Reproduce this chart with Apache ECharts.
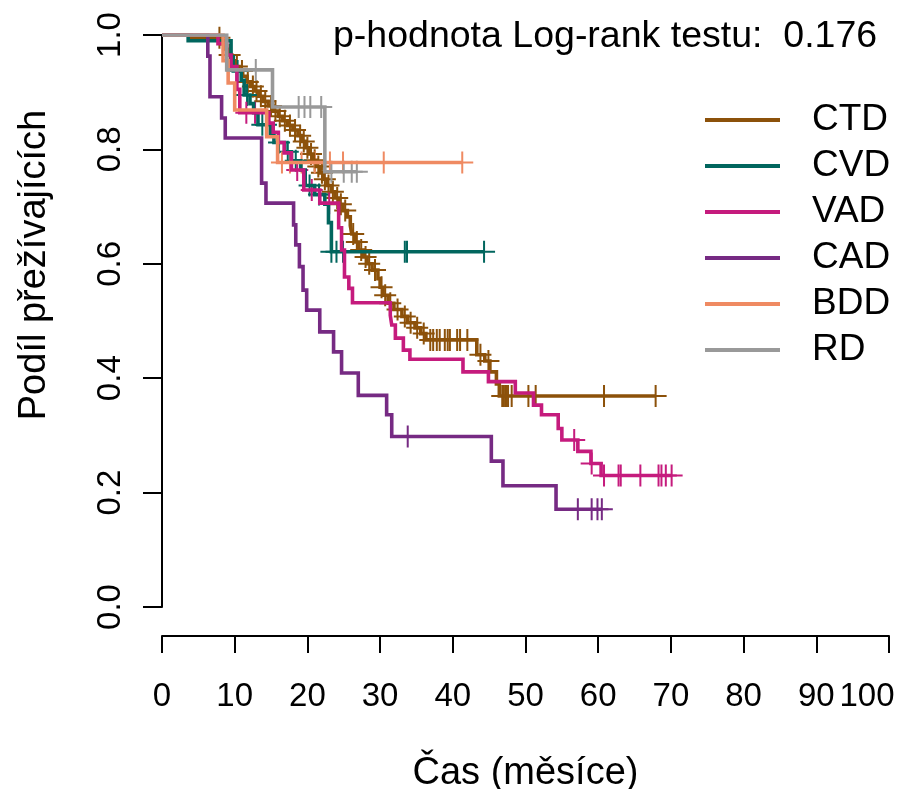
<!DOCTYPE html>
<html><head><meta charset="utf-8">
<script src="https://cdn.jsdelivr.net/npm/echarts@6/dist/echarts.min.js"></script>
<style>html,body{margin:0;padding:0;background:#fff}#c{width:918px;height:789px}</style>
</head><body><div id="c"></div>
<script>
// ---- data ----
const groupNames = ['CTD', 'CVD', 'VAD', 'CAD', 'BDD', 'RD'];
const xTicks = [0, 10, 20, 30, 40, 50, 60, 70, 80, 90, 100];
const yTicks = [0.0, 0.2, 0.4, 0.6, 0.8, 1.0];
const titleText = 'p-hodnota Log-rank testu:  0.176';
const xName = 'Čas (měsíce)';
const yName = 'Podíl přežívajících';

const ctdTime = [0, 4.0, 8.2, 8.7, 9.1, 9.6, 10.0, 10.6, 11.1, 11.7, 12.2, 12.8, 13.3, 13.9, 14.6, 15.3, 16.0, 16.6, 17.3, 18.0, 18.7, 19.3, 19.7, 20.2, 20.8, 21.2, 21.7, 22.2, 22.7, 23.3, 23.8, 24.4, 24.9, 25.5, 25.9, 26.1, 26.6, 27.0, 27.7, 28.2, 28.9, 29.7, 30.0, 30.4, 31.1, 31.9, 33.0, 33.8, 34.8, 35.6, 36.3, 43.3, 44.4, 45.1, 46.0, 46.4];
const ctdSurv = [1, 0.995, 0.985, 0.975, 0.965, 0.955, 0.945, 0.937, 0.928, 0.918, 0.910, 0.902, 0.893, 0.884, 0.876, 0.867, 0.858, 0.850, 0.842, 0.834, 0.824, 0.814, 0.803, 0.792, 0.781, 0.770, 0.759, 0.748, 0.737, 0.726, 0.715, 0.704, 0.693, 0.682, 0.667, 0.652, 0.638, 0.624, 0.612, 0.600, 0.589, 0.574, 0.559, 0.545, 0.531, 0.520, 0.508, 0.497, 0.488, 0.478, 0.467, 0.441, 0.430, 0.411, 0.390, 0.369];
const ctdCensor = [7.9, 9.3, 10.3, 11.0, 11.8, 12.5, 13.0, 13.6, 14.2, 15.0, 15.6, 16.2, 16.9, 17.6, 18.3, 19.0, 19.5, 20.0, 20.5, 21.0, 21.5, 22.0, 22.4, 22.9, 23.5, 24.1, 24.6, 25.2, 26.3, 26.8, 27.4, 28.0, 28.5, 29.3, 30.2, 30.7, 31.4, 32.4, 33.4, 34.2, 35.1, 36.0, 36.9, 37.3, 37.8, 38.2, 38.9, 39.3, 39.6, 40.6, 41.0, 42.0, 43.8, 44.9, 46.8, 47.0, 47.2, 47.4, 47.6, 48.1, 50.4, 51.4, 60.8, 67.9];

const cvdTime = [0, 3.6, 9.5, 9.8, 10.9, 11.3, 12.1, 12.6, 13.2, 14.9, 15.4, 16.9, 17.8, 19.1, 19.7, 21.0, 22.4, 22.9, 23.3];
const cvdSurv = [1, 0.990, 0.962, 0.937, 0.921, 0.895, 0.880, 0.864, 0.843, 0.828, 0.812, 0.796, 0.780, 0.764, 0.737, 0.721, 0.704, 0.672, 0.621];
const cvdCensor = [10.4, 11.7, 13.8, 14.3, 16.1, 17.3, 18.4, 20.3, 21.6, 23.3, 24.0, 24.9, 33.4, 33.7, 44.3];

const vadTime = [0, 7.7, 8.9, 9.5, 10.3, 10.7, 14.7, 15.3, 16.0, 16.8, 17.8, 19.5, 21.7, 24.3, 24.7, 25.1, 25.7, 26.2, 31.4, 31.6, 32.1, 33.2, 34.1, 41.4, 44.9, 48.6, 51.1, 52.2, 54.5, 55.0, 57.2, 59.0, 60.4];
const vadSurv = [1, 0.985, 0.965, 0.945, 0.905, 0.864, 0.846, 0.830, 0.812, 0.794, 0.764, 0.729, 0.706, 0.663, 0.624, 0.577, 0.557, 0.532, 0.510, 0.493, 0.470, 0.449, 0.433, 0.411, 0.394, 0.374, 0.353, 0.336, 0.312, 0.292, 0.272, 0.251, 0.230];
const vadCensor = [11.6, 12.8, 18.6, 20.6, 23.0, 56.7, 59.1, 60.8, 62.8, 63.1, 65.8, 68.3, 68.7, 69.3, 70.1];

const cadTime = [0, 6.3, 6.6, 8.2, 8.7, 13.7, 14.3, 18.1, 18.4, 18.9, 19.4, 19.9, 21.7, 23.6, 24.7, 27.0, 30.9, 31.6, 45.3, 46.9, 54.2];
const cadSurv = [1, 0.963, 0.892, 0.855, 0.820, 0.741, 0.706, 0.668, 0.633, 0.595, 0.554, 0.519, 0.481, 0.446, 0.409, 0.370, 0.336, 0.298, 0.255, 0.212, 0.171];
const cadCensor = [33.8, 57.2, 59.1, 59.9, 60.5];

const bddTime = [0, 8.4, 9.1, 10.0, 14.4, 15.9];
const bddSurv = [1, 0.955, 0.916, 0.869, 0.822, 0.777];
const bddCensor = [16.5, 17.6, 19.2, 21.0, 23.1, 24.9, 30.5, 41.3];

const rdTime = [0, 8.9, 15.2, 22.4];
const rdSurv = [1, 0.939, 0.874, 0.761];
const rdCensor = [12.9, 18.8, 19.6, 20.4, 21.9, 23.3, 25.0, 26.1, 26.8];

// ---- styles ----
const groupColors = ['#8C510A', '#01665E', '#C51B7D', '#762A83', '#EF8A62', '#999999'];
const groups = [
  [ctdTime, ctdSurv, ctdCensor],
  [cvdTime, cvdSurv, cvdCensor],
  [vadTime, vadSurv, vadCensor],
  [cadTime, cadSurv, cadCensor],
  [bddTime, bddSurv, bddCensor],
  [rdTime, rdSurv, rdCensor]
];

function survAt(times, surv, t) {
  let s = surv[0];
  for (let i = 0; i < times.length; i++) if (times[i] <= t) s = surv[i];
  return s;
}

const plusPath = 'path://M10,0H12V10H22V12H12V22H10V12H0V10H10Z';
const series = [];
groups.forEach((g, k) => {
  const [times, surv, cens] = g;
  const pts = times.map((t, i) => [t, surv[i]]);
  const lastT = Math.max(times[times.length - 1], cens.length ? Math.max(...cens) : 0);
  if (lastT > times[times.length - 1]) pts.push([lastT, surv[surv.length - 1]]);
  series.push({
    type: 'line', name: groupNames[k], step: 'end', data: pts,
    showSymbol: false, symbol: 'none', animation: false,
    lineStyle: { width: 3.6, color: groupColors[k], cap: 'butt', join: 'miter' },
    itemStyle: { color: groupColors[k] },
    emphasis: { disabled: true }
  });
  series.push({
    type: 'scatter', name: groupNames[k] + ' cens',
    data: cens.map(t => [t, survAt(times, surv, t)]),
    symbol: plusPath, symbolSize: 22, animation: false,
    itemStyle: { color: groupColors[k], opacity: 1 },
    emphasis: { disabled: true }
  });
});

const xMax = xTicks[xTicks.length - 1];
const chart = echarts.init(document.getElementById('c'), null, { renderer: 'canvas' });
chart.setOption({
  backgroundColor: '#fff',
  animation: false,
  textStyle: { fontFamily: 'Liberation Sans, Arial, sans-serif' },
  grid: { left: 162, right: 29, top: 35, bottom: 182, containLabel: false, outerBoundsMode: 'none' },
  xAxis: {
    type: 'value', min: xTicks[0], max: xMax, interval: 10,
    offset: 29,
    name: xName, nameLocation: 'middle', nameGap: 119,
    nameTextStyle: { fontSize: 38, color: '#000', fontFamily: 'Liberation Sans' },
    axisLine: { show: true, onZero: false, lineStyle: { color: '#000', width: 2 } },
    axisTick: { show: true, length: 17, lineStyle: { color: '#000', width: 2 } },
    axisLabel: { fontSize: 33, color: '#000', margin: 44, hideOverlap: false, showMaxLabel: true,
      fontFamily: 'Liberation Sans',
      formatter: v => v === xMax ? '{m|' + v + '}' : String(v),
      rich: { m: { fontSize: 33, color: '#000', padding: [0, 44, 0, 0], fontFamily: 'Liberation Sans' } } },
    splitLine: { show: false }
  },
  yAxis: {
    type: 'value', min: yTicks[0], max: yTicks[yTicks.length - 1], interval: 0.2,
    axisLine: { show: true, onZero: false, lineStyle: { color: '#000', width: 2 } },
    axisTick: { show: true, length: 19, lineStyle: { color: '#000', width: 2 } },
    axisLabel: { fontSize: 33, color: '#000', margin: 35, rotate: 90, hideOverlap: false,
      formatter: v => v.toFixed(1), fontFamily: 'Liberation Sans' },
    splitLine: { show: false }
  },
  legend: {
    orient: 'vertical', left: 700, top: 95,
    data: groupNames, icon: 'rect', itemWidth: 75, itemHeight: 4, itemGap: 6,
    textStyle: { fontSize: 37, color: '#000', lineHeight: 40, padding: [0, 0, 0, 27], fontFamily: 'Liberation Sans' },
    selectedMode: false
  },
  graphic: [
    { type: 'text', left: 333, top: 18,
      style: { text: titleText, fontSize: 37.5, fill: '#000', fontFamily: 'Liberation Sans' } },
    { type: 'text', x: 35, y: 265, rotation: Math.PI / 2,
      style: { text: yName, fontSize: 38, fill: '#000', align: 'center', verticalAlign: 'middle', fontFamily: 'Liberation Sans' } }
  ],
  series: series
});
</script>
</body></html>
